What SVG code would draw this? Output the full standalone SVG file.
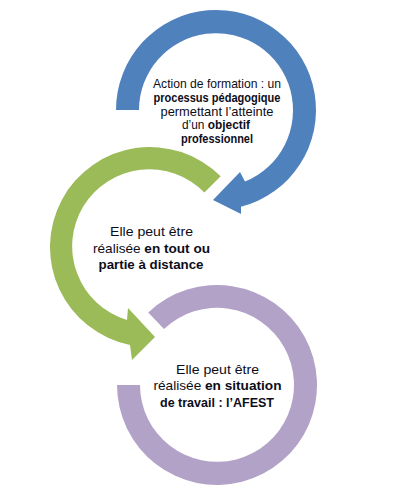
<svg xmlns="http://www.w3.org/2000/svg" width="400" height="497" viewBox="0 0 400 497">
<style>
.t{font-family:"Liberation Sans",Arial,sans-serif;font-size:13px;fill:#0d0d1a;text-anchor:middle}
.b{font-weight:bold}
</style>
<rect width="400" height="497" fill="#ffffff"/>
<g id="connectors">
<path id="arc-purple" fill="#B2A2C7" d="M148.2,312.4 A100,100 0 1 1 117,385 L140,385 A77,77 0 1 0 164,329 Z"/>
<path id="arc-green" fill="#9BBB59" d="M220.7,176.3 A100,100 0 1 0 130,345 L132,360 L155,337 L128,308 L127,320 A77,77 0 1 1 204.4,192.6 Z"/>
<path id="arc-blue" fill="#4F81BD" d="M116,110 A100,100 0 1 1 241,206.8 L241,214 L213,200 L240,172 L245,181.5 A77,77 0 1 0 139,110 Z"/>
</g>
<g id="node-action">
<text class="t" x="217" y="87.5" textLength="128" lengthAdjust="spacingAndGlyphs">Action de formation : un</text>
<text class="t b" x="217" y="101.5" textLength="127" lengthAdjust="spacingAndGlyphs">processus pédagogique</text>
<text class="t" x="217" y="115.5" textLength="113" lengthAdjust="spacingAndGlyphs">permettant l’atteinte</text>
<text class="t" x="216" y="129" textLength="68" lengthAdjust="spacingAndGlyphs">d’un <tspan class="b">objectif</tspan></text>
<text class="t b" x="217" y="143" textLength="72" lengthAdjust="spacingAndGlyphs">professionnel</text>
</g>
<g id="node-distance">
<text class="t" x="151.5" y="236" textLength="83" lengthAdjust="spacingAndGlyphs">Elle peut être</text>
<text class="t" x="151.5" y="252.5" textLength="117" lengthAdjust="spacingAndGlyphs">réalisée <tspan class="b">en tout ou</tspan></text>
<text class="t b" x="151" y="269" textLength="105" lengthAdjust="spacingAndGlyphs">partie à distance</text>
</g>
<g id="node-afest">
<text class="t" x="217.5" y="373.5" textLength="83" lengthAdjust="spacingAndGlyphs">Elle peut être</text>
<text class="t" x="217.5" y="390" textLength="128" lengthAdjust="spacingAndGlyphs">réalisée <tspan class="b">en situation</tspan></text>
<text class="t b" x="217" y="406.5" textLength="114" lengthAdjust="spacingAndGlyphs">de travail : l’AFEST</text>
</g>
</svg>
